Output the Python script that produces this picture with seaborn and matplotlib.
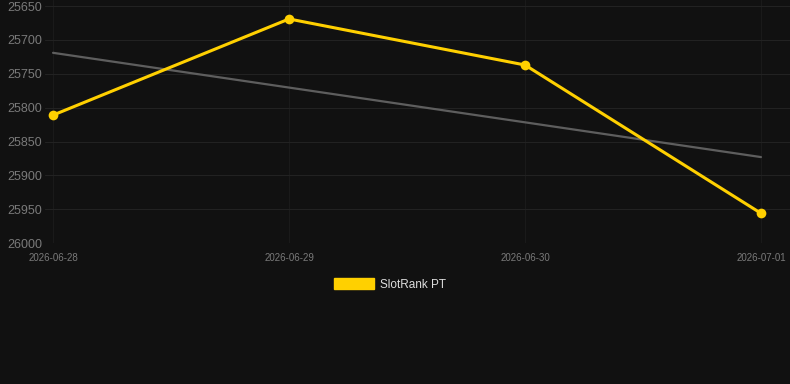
import pandas as pd
import seaborn as sns
import matplotlib.pyplot as plt
import matplotlib.dates as mdates
from matplotlib.patches import Patch

# Data
dates = ["2026-06-28", "2026-06-29", "2026-06-30", "2026-07-01"]
rank = [25811, 25669, 25737, 25956]
trend_dates = ["2026-06-28", "2026-07-01"]
trend_values = [25719, 25873]
y_ticks = [25650, 25700, 25750, 25800, 25850, 25900, 25950, 26000]

bg = "#111111"
yellow = "#FFD000"

sns.set_theme(style="dark")
plt.rcParams['font.family'] = ['Liberation Sans', 'DejaVu Sans']

df = pd.DataFrame({"date": pd.to_datetime(dates), "rank": rank})
trend = pd.DataFrame({"date": pd.to_datetime(trend_dates), "rank": trend_values})

fig = plt.figure(figsize=(7.9, 3.84), dpi=100, facecolor=bg)
ax = fig.add_axes([0.057, 0.367, 0.943, 0.633])
ax.set_facecolor(bg)

sns.lineplot(data=trend, x="date", y="rank", ax=ax, color="#5e5e5e", linewidth=1.6)
sns.lineplot(data=df, x="date", y="rank", ax=ax, color=yellow, linewidth=2.2,
             marker="o", markersize=7, markeredgewidth=0)

ax.set_ylim(26000, 25641)
ax.set_yticks(y_ticks)
ax.set_yticklabels([str(v) for v in y_ticks])
x0 = mdates.date2num(pd.Timestamp(dates[0]))
ax.set_xlim(x0 - 0.034, x0 + 3.123)
ax.set_xticks(pd.to_datetime(dates))
ax.xaxis.set_major_formatter(mdates.DateFormatter("%Y-%m-%d"))

ax.grid(True, axis="y", color="#222222", linewidth=0.8)
ax.grid(True, axis="x", color="#1a1a1a", linewidth=0.8)
for s in ax.spines.values():
    s.set_visible(False)
ax.tick_params(axis="y", colors="#7a7a7a", labelsize=9, length=0, pad=2)
ax.tick_params(axis="x", colors="#2a2a2a", labelcolor="#7a7a7a", labelsize=7,
               length=4, width=0.8, pad=3)
ax.set_xlabel("")
ax.set_ylabel("")

handles = [Patch(facecolor=yellow, edgecolor=yellow, label="SlotRank PT")]
leg = fig.legend(handles=handles, loc="center", bbox_to_anchor=(0.494, 0.26),
                 frameon=False, fontsize=8.5, handlelength=3.4, handleheight=1.1,
                 handletextpad=0.5)
for t in leg.get_texts():
    t.set_color("#dddddd")

fig.savefig("out.png", dpi=100, facecolor=bg)
